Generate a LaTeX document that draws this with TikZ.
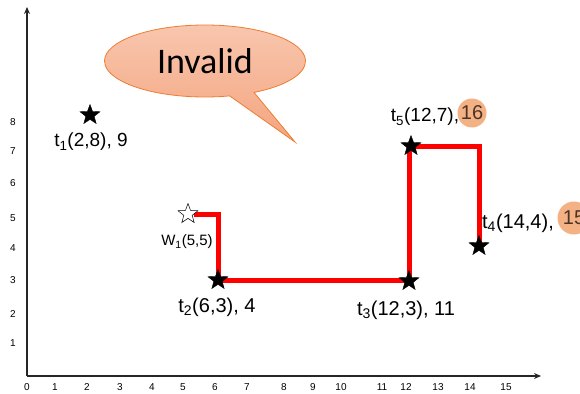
\documentclass[tikz,border=0pt]{standalone}
\usepackage{fontspec}
\setmainfont{Liberation Sans}
\newfontfamily\calibri{Carlito}
\usetikzlibrary{arrows.meta, shapes.geometric, shapes.callouts, backgrounds}

\definecolor{bubbletop}{HTML}{F8C6AE}
\definecolor{bubblebot}{HTML}{F4A57F}
\definecolor{bubbleline}{HTML}{ED7D31}
\definecolor{hlfill}{HTML}{F4B183}
\definecolor{hltext}{HTML}{4A3428}

\tikzset{
  tstar/.style={star, star points=5, star point ratio=2.4, fill=black, draw=black, inner sep=0pt, minimum size=21pt},
  wstar/.style={tstar, fill=white, line width=0.5pt},
  lbl/.style={font=\fontsize{20}{24}\selectfont, inner sep=1pt},
  tick/.style={font=\fontsize{10}{12}\selectfont, inner sep=0pt},
  axis/.style={black!85, line width=1.2pt, -{Stealth[length=7pt, width=6pt]}},
  route/.style={red, line width=5pt},
  hl/.style={circle, fill=hlfill, inner sep=0pt, text=hltext, font=\fontsize{20}{24}\selectfont}
}

\begin{document}
\begin{tikzpicture}[x=1pt, y=-1pt]
  \useasboundingbox (0,0) rectangle (580,393);

  % axes
  \coordinate (o) at (27,376);
  \coordinate (xend) at (541,376);
  \coordinate (yend) at (27,7);
  \draw[axis] (o) -- (xend);
  \draw[axis] (o) -- (yend);

  \foreach \x/\n in {27/0, 55/1, 87/2, 120/3, 152/4, 183/5, 215/6, 247/7, 284/8, 313/9, 341/10, 382/11, 406/12, 438/13, 470/14, 506/15}
    \node[tick] (xt\n) at (\x,387) {\n};
  \foreach \y/\n in {343/1, 314/2, 280/3, 248/4, 218/5, 183/6, 151/7, 122/8}
    \node[tick] (yt\n) at (13,\y) {\n};

  % tasks and worker
  \node[tstar] (t1) at (90,115) {};
  \node[wstar] (w1) at (188,214) {};
  \node[tstar] (t2) at (218,280) {};
  \node[tstar] (t3) at (409,281) {};
  \node[tstar] (t5) at (411,146) {};
  \node[tstar] (t4) at (479,246) {};

  \node[lbl, font=\fontsize{19}{22}\selectfont] (t1lbl) at (91,142) {t\textsubscript{1}(2,8), 9};
  \node[lbl, font=\fontsize{15}{18}\selectfont] (w1lbl) at (187,242) {W\textsubscript{1}(5,5)};
  \node[lbl] (t2lbl) at (217,307) {t\textsubscript{2}(6,3), 4};
  \node[lbl] (t3lbl) at (406,310) {t\textsubscript{3}(12,3), 11};
  \node[lbl, font=\fontsize{19}{22}\selectfont] (t5lbl) at (425,117) {t\textsubscript{5}(12,7),};
  \node[hl, minimum size=29pt] (t5due) at (472,113) {16};
  \node[lbl] (t4lbl) at (518,223) {t\textsubscript{4}(14,4),};
  \node[hl, minimum size=33pt] (t4due) at (574,218) {15};

  % route of w1
  \begin{scope}[on background layer]
    \draw[route] (w1) -| (t2.center) -- (t2.center -| t3) |- (t5.center) -| (t4.center);
  \end{scope}

  % speech bubble
  \node[ellipse callout, callout absolute pointer={(295,142)}, callout pointer arc=15,
        minimum width=201pt, minimum height=72pt, top color=bubbletop, bottom color=bubblebot,
        draw=bubbleline, line width=0.8pt, font=\calibri\fontsize{36}{40}\selectfont] (bubble) at (205,61) {Invalid};
\end{tikzpicture}
\end{document}
